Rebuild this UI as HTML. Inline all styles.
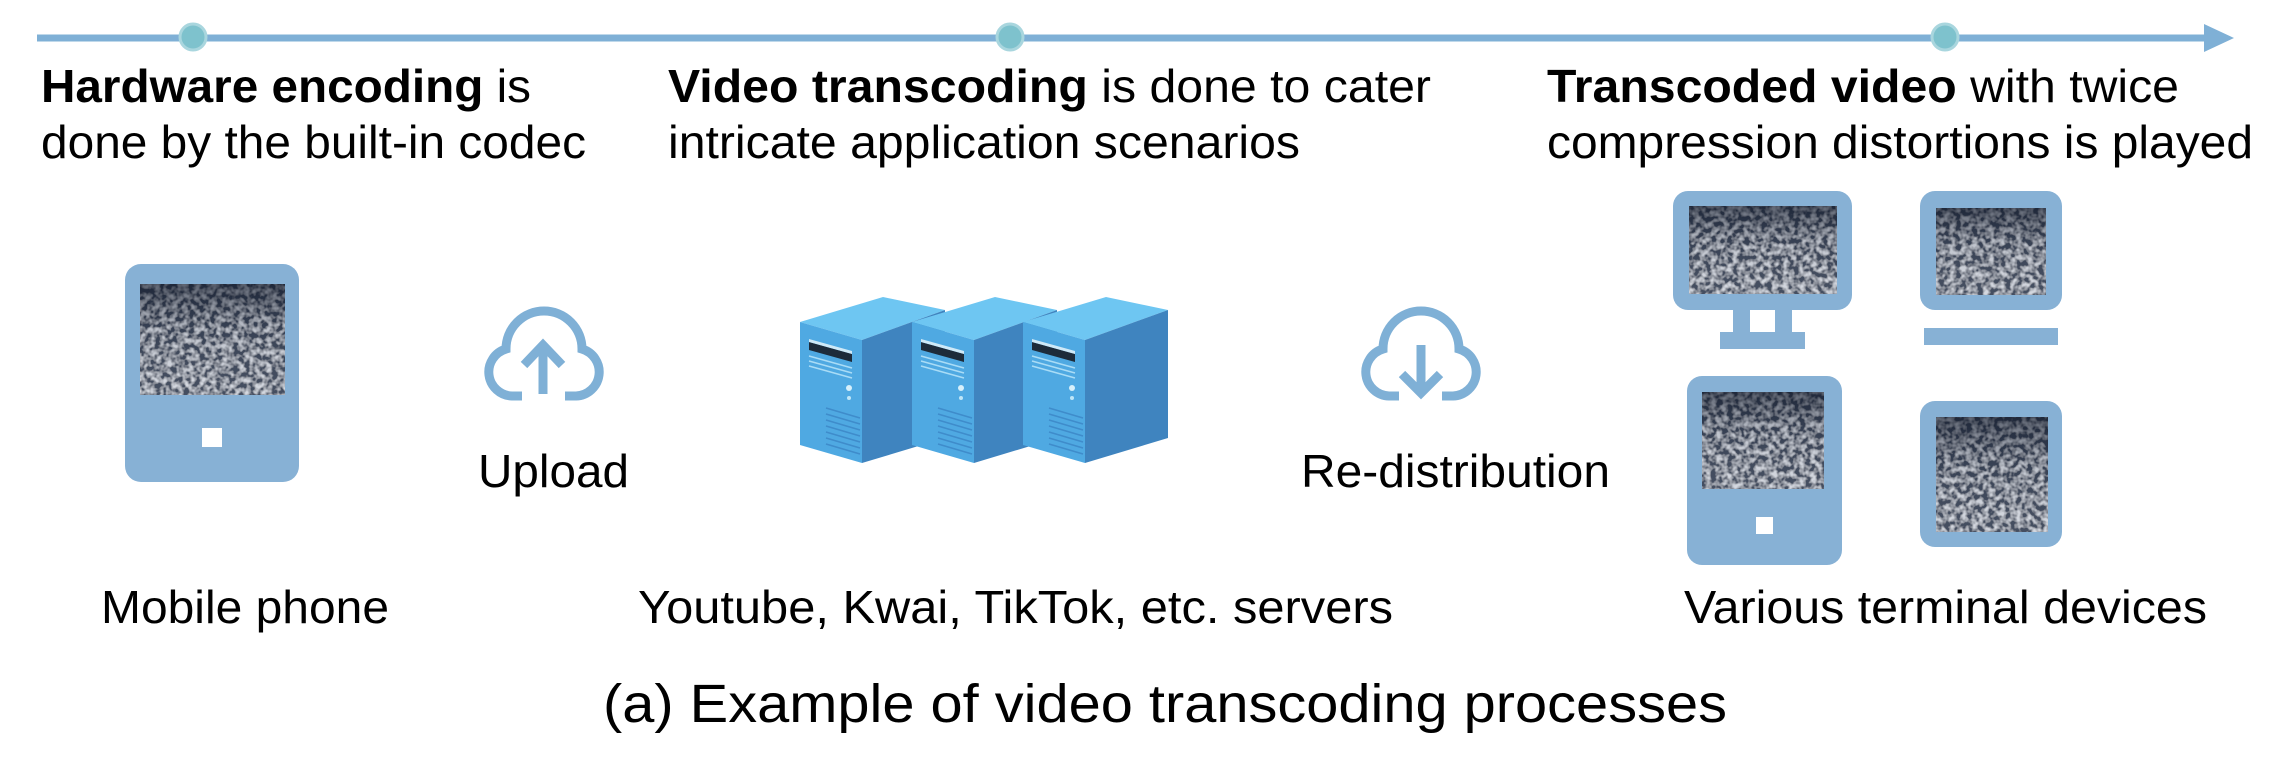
<!DOCTYPE html>
<html><head><meta charset="utf-8"><style>
html,body{margin:0;padding:0;background:#fff;}
svg{display:block;}
text{font-family:"Liberation Sans",Arial,sans-serif;fill:#000;}
</style></head><body>
<svg width="2290" height="760" viewBox="0 0 2290 760" xmlns="http://www.w3.org/2000/svg">
<defs>
<filter id="nz" x="0" y="0" width="100%" height="100%">
<feTurbulence type="fractalNoise" baseFrequency="0.18" numOctaves="2" seed="5" result="t"/>
<feColorMatrix in="t" type="matrix" values="0 0 0 0 0  0 0 0 0 0  0 0 0 0 0  2.6 0 0 0 -0.95" result="a"/>
<feFlood flood-color="#d2d6de" result="w"/>
<feComposite in="w" in2="a" operator="in" result="wa"/>
<feFlood flood-color="#3a4458" result="bg"/>
<feMerge><feMergeNode in="bg"/><feMergeNode in="wa"/></feMerge>
</filter>
<linearGradient id="shade" x1="0" y1="0" x2="0" y2="1">
<stop offset="0" stop-color="#0d1526" stop-opacity="0.6"/>
<stop offset="0.4" stop-color="#0d1526" stop-opacity="0.1"/>
<stop offset="1" stop-color="#ffffff" stop-opacity="0.05"/>
</linearGradient>
</defs>

<line x1="37" y1="38" x2="2210" y2="38" stroke="#7fb0d6" stroke-width="7"/>
<polygon points="2204,24 2234,38 2204,52" fill="#7fb0d6"/>
<circle cx="193" cy="37" r="13" fill="#7ec2cd" stroke="#a9d6de" stroke-width="3"/>
<circle cx="1010" cy="37" r="13" fill="#7ec2cd" stroke="#a9d6de" stroke-width="3"/>
<circle cx="1945" cy="37" r="13" fill="#7ec2cd" stroke="#a9d6de" stroke-width="3"/>

<g font-size="46">
<text x="41" y="102" textLength="490" lengthAdjust="spacingAndGlyphs"><tspan font-weight="bold">Hardware encoding</tspan> is</text>
<text x="41" y="158" textLength="545" lengthAdjust="spacingAndGlyphs">done by the built-in codec</text>
<text x="668" y="102" textLength="763" lengthAdjust="spacingAndGlyphs"><tspan font-weight="bold">Video transcoding</tspan> is done to cater</text>
<text x="668" y="158" textLength="632" lengthAdjust="spacingAndGlyphs">intricate application scenarios</text>
<text x="1547" y="102" textLength="632" lengthAdjust="spacingAndGlyphs"><tspan font-weight="bold">Transcoded video</tspan> with twice</text>
<text x="1547" y="158" textLength="706" lengthAdjust="spacingAndGlyphs">compression distortions is played</text>
</g>

<rect x="125" y="264" width="174" height="218" rx="16" fill="#87b1d5"/>
<rect x="140" y="284" width="145" height="111" filter="url(#nz)"/>
<rect x="140" y="284" width="145" height="111" fill="url(#shade)"/>
<rect x="202" y="428" width="20" height="19" fill="#fff"/>

<g fill="none" stroke="#7fb0d6" stroke-width="9" stroke-linecap="butt">
<path d="M522,396 H512 A24,24 0 0 1 506,349 A38,38 0 0 1 582,349 A24,24 0 0 1 576,396 H565"/>
<path d="M543,394 V346 M524,365 L543,345 L562,365"/>
</g>
<g fill="none" stroke="#7fb0d6" stroke-width="9" stroke-linecap="butt">
<path d="M1399,396 H1389 A24,24 0 0 1 1383,349 A38,38 0 0 1 1459,349 A24,24 0 0 1 1453,396 H1442"/>
<path d="M1421,345 V392 M1402,374 L1421,393 L1440,374"/>
</g>

<g id="srv">
<polygon points="800,322 883,297 945,310 862,340" fill="#6ec6f2"/>
<polygon points="800,322 862,340 862,463 800,445" fill="#4fa9e2"/>
<polygon points="862,340 945,310 945,438 862,463" fill="#3f84bf"/>
<polygon points="809,342 852,354 852,362 809,350" fill="#1d2b3a"/>
<polygon points="809,339 852,351 852,354 809,342" fill="#cfe9f7"/>
<g stroke="#a9dcf6" stroke-width="1.5">
<line x1="809" y1="356" x2="852" y2="368"/><line x1="809" y1="361" x2="852" y2="373"/><line x1="809" y1="366" x2="852" y2="378"/>
</g>
<circle cx="849" cy="388" r="3" fill="#d7f0fb"/><circle cx="849" cy="398" r="2" fill="#bfe6f8"/>
<g stroke="#3f8ccb" stroke-width="1.5">
<line x1="826" y1="408" x2="860" y2="418"/><line x1="826" y1="414" x2="860" y2="424"/><line x1="826" y1="420" x2="860" y2="430"/>
<line x1="826" y1="426" x2="860" y2="436"/><line x1="826" y1="432" x2="860" y2="442"/><line x1="826" y1="438" x2="860" y2="448"/>
<line x1="826" y1="444" x2="860" y2="454"/>
</g>
</g>
<use href="#srv" x="112"/>
<use href="#srv" x="223"/>

<rect x="1673" y="191" width="179" height="119" rx="15" fill="#87b1d5"/>
<rect x="1689" y="206" width="148" height="88" filter="url(#nz)"/>
<rect x="1689" y="206" width="148" height="88" fill="url(#shade)"/>
<rect x="1733" y="308" width="17" height="26" fill="#87b1d5"/>
<rect x="1775" y="308" width="17" height="26" fill="#87b1d5"/>
<rect x="1720" y="332" width="85" height="17" fill="#87b1d5"/>
<rect x="1920" y="191" width="142" height="119" rx="15" fill="#87b1d5"/>
<rect x="1936" y="208" width="110" height="87" filter="url(#nz)"/>
<rect x="1936" y="208" width="110" height="87" fill="url(#shade)"/>
<rect x="1924" y="328" width="134" height="17" fill="#87b1d5"/>
<rect x="1687" y="376" width="155" height="189" rx="15" fill="#87b1d5"/>
<rect x="1702" y="392" width="122" height="97" filter="url(#nz)"/>
<rect x="1702" y="392" width="122" height="97" fill="url(#shade)"/>
<rect x="1756" y="517" width="17" height="17" fill="#fff"/>
<rect x="1920" y="401" width="142" height="146" rx="15" fill="#87b1d5"/>
<rect x="1936" y="417" width="112" height="115" filter="url(#nz)"/>
<rect x="1936" y="417" width="112" height="115" fill="url(#shade)"/>

<g font-size="46">
<text x="478" y="487" textLength="151" lengthAdjust="spacingAndGlyphs">Upload</text>
<text x="1301" y="487" textLength="309" lengthAdjust="spacingAndGlyphs">Re-distribution</text>
<text x="101" y="623" textLength="288" lengthAdjust="spacingAndGlyphs">Mobile phone</text>
<text x="638" y="623" textLength="755" lengthAdjust="spacingAndGlyphs">Youtube, Kwai, TikTok, etc. servers</text>
<text x="1684" y="623" textLength="523" lengthAdjust="spacingAndGlyphs">Various terminal devices</text>
</g>
<text x="603" y="722" font-size="54" textLength="1124" lengthAdjust="spacingAndGlyphs">(a) Example of video transcoding processes</text>
</svg>
</body></html>
